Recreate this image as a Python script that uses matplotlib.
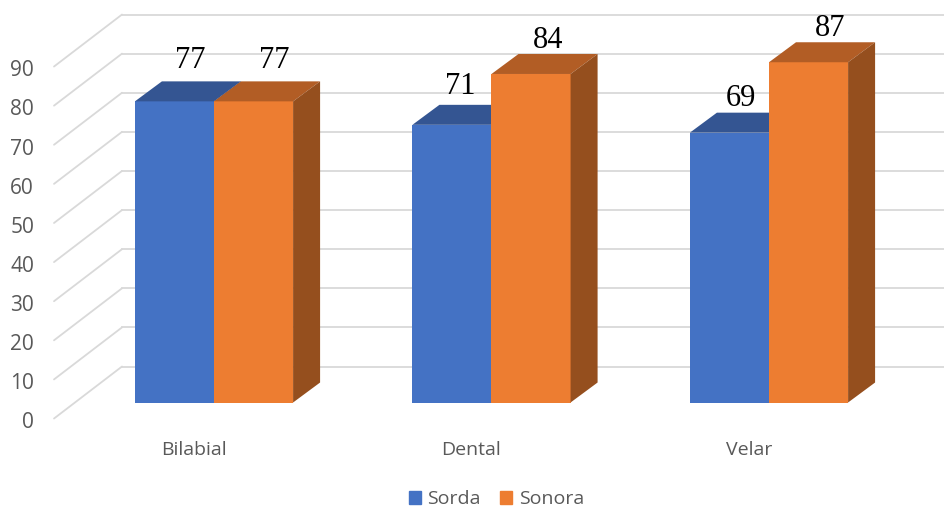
import matplotlib
matplotlib.use('Agg')
import matplotlib.pyplot as plt
from matplotlib.patches import Patch, Polygon

categorias = ['Bilabial', 'Dental', 'Velar']
sorda = [77, 71, 69]
sonora = [77, 84, 87]
marcas_y = [0, 10, 20, 30, 40, 50, 60, 70, 80, 90]
series = ['Sorda', 'Sonora']

AZUL = ['#4472C4', '#345592', '#2F4E87']
NARANJA = ['#ED7D31', '#B25D25', '#954F1E']
GRIS = '#D9D9D9'
TEXTO = '#595959'

ANCHO = 0.285         # ancho de cada barra
PROF_X = 0.0973       # fondo de la barra
PROF_Y = 5.11
PARED_X = 0.245       # distancia entre el extremo de la rejilla y la pared
PARED_Y = 9.2
PISO_Y = -4.1         # altura del extremo frontal de la rejilla


def barra(ax, x, valor, colores):
    """Dibuja una barra con su cara superior y su cara lateral."""
    izq, der = x, x + ANCHO
    ax.bar(izq, valor, ANCHO, align='edge', color=colores[0], zorder=3)
    ax.add_patch(Polygon([(izq, valor), (der, valor),
                          (der + PROF_X, valor + PROF_Y),
                          (izq + PROF_X, valor + PROF_Y)],
                         facecolor=colores[1], edgecolor='none', zorder=3))
    ax.add_patch(Polygon([(der, 0), (der + PROF_X, PROF_Y),
                          (der + PROF_X, valor + PROF_Y), (der, valor)],
                         facecolor=colores[2], edgecolor='none', zorder=3))


def main():
    fig = plt.figure(figsize=(9.44, 5.08), dpi=100)
    ax = fig.add_axes([0, 0, 1, 1])
    ax.set_xlim(-214 / 277.5, 730 / 277.5)
    ax.set_ylim(-105.5 / 3.911, 402.5 / 3.911)
    ax.axis('off')

    # rejilla: tramo lateral y pared posterior
    origen = -160 / 277.5
    for v in marcas_y:
        ax.plot([origen, origen + PARED_X], [v + PISO_Y, v + PARED_Y],
                color=GRIS, lw=1.3, zorder=1, solid_capstyle='round')
        ax.plot([origen + PARED_X, 3], [v + PARED_Y, v + PARED_Y],
                color=GRIS, lw=1.3, zorder=1)
        ax.text(-180 / 277.5, v + PISO_Y - 1.1, str(v), ha='right', va='center',
                fontsize=15, color=TEXTO, family='Open Sans')

    # las naranjas van después para tapar el costado de las azules
    for i in range(len(categorias)):
        barra(ax, i - ANCHO, sorda[i], AZUL)
    for i in range(len(categorias)):
        barra(ax, i, sonora[i], NARANJA)

    despl_sorda = [(0.056, 10.5), (0.031, 9.8), (0.041, 8.8)]
    despl_sonora = [(0.076, 10.5), (0.061, 8.5), (0.079, 8.7)]
    for i in range(len(categorias)):
        dx, dy = despl_sorda[i]
        ax.text(i - ANCHO / 2 + dx, sorda[i] + dy, str(sorda[i]), ha='center',
                va='center', fontsize=22, color='black',
                family='Liberation Serif', zorder=4)
        dx, dy = despl_sonora[i]
        ax.text(i + ANCHO / 2 + dx, sonora[i] + dy, str(sonora[i]), ha='center',
                va='center', fontsize=22, color='black',
                family='Liberation Serif', zorder=4)
        ax.text(i - 0.073, -12.2, categorias[i], ha='center', va='center',
                fontsize=14, color=TEXTO, family='Open Sans')

    ax.legend(handles=[Patch(color=AZUL[0], label=series[0]),
                       Patch(color=NARANJA[0], label=series[1])],
              ncol=2, loc='center', bbox_to_anchor=(0.526, 0.017), frameon=False,
              prop={'family': 'Open Sans', 'size': 14}, labelcolor=TEXTO,
              handlelength=0.62, handleheight=0.62, handletextpad=0.32,
              columnspacing=1.0, borderpad=0, borderaxespad=0)

    fig.savefig('out.png', dpi=100)


if __name__ == '__main__':
    main()
